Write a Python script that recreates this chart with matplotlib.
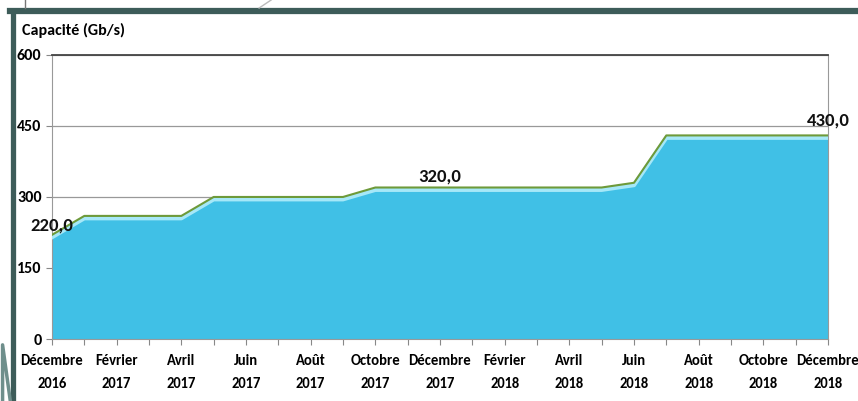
import matplotlib.pyplot as plt
from matplotlib.lines import Line2D

# données mensuelles déc. 2016 -> déc. 2018
mois = ['Décembre', 'Janvier', 'Février', 'Mars', 'Avril', 'Mai', 'Juin', 'Juillet', 'Août',
        'Septembre', 'Octobre', 'Novembre', 'Décembre', 'Janvier', 'Février', 'Mars', 'Avril',
        'Mai', 'Juin', 'Juillet', 'Août', 'Septembre', 'Octobre', 'Novembre', 'Décembre']
annees = ['2016'] + ['2017'] * 12 + ['2018'] * 12
capacite = [220, 260, 260, 260, 260, 300, 300, 300, 300, 300, 320, 320, 320,
            320, 320, 320, 320, 320, 330, 430, 430, 430, 430, 430, 430]
etiquettes = {0: '220,0', 12: '320,0', 24: '430,0'}
y_ticks = [0, 150, 300, 450, 600]

plt.rcParams['font.family'] = ['Carlito', 'DejaVu Sans']

fig = plt.figure(figsize=(8.58, 4.01), dpi=100)
ax = fig.add_axes([0.0606, 0.1546, 0.9044, 0.7084])

x = list(range(len(capacite)))
ax.fill_between(x, 0, capacite, color='#40c0e6', zorder=2)
ax.plot(x, [v - 5 for v in capacite], color='#a6e8f8', lw=3, zorder=3)
ax.plot(x, capacite, color='#6e9a3a', lw=1.5, zorder=4)

for i, txt in etiquettes.items():
    dy = 1 if i == 0 else (2 if i == 12 else 5)
    ax.annotate(txt, (i, capacite[i]), xytext=(0, dy), textcoords='offset points',
                ha='center', va='bottom', fontsize=13.5, fontweight='bold', color='#111111', zorder=5,
                annotation_clip=False)

ax.set_xlim(0, len(capacite) - 1)
ax.set_ylim(0, 600)
ax.set_yticks(y_ticks)
ax.set_yticklabels([str(v) for v in y_ticks], fontsize=11.5, fontweight='bold')
ax.set_xticks(x)
ax.set_xticklabels([f'{m}\n{a}' if i % 2 == 0 else '' for i, (m, a) in enumerate(zip(mois, annees))],
                   fontsize=10.5, fontweight='bold', linespacing=1.75)
ax.tick_params(axis='x', length=4, color='#888888', pad=7)
ax.tick_params(axis='y', length=4, color='#888888', pad=3.5)
ax.grid(axis='y', color='#999999', lw=0.9, zorder=1)
for s in ['left', 'bottom', 'right']:
    ax.spines[s].set_color('#999999')
ax.spines['top'].set_color('#444444')
ax.spines['top'].set_linewidth(1.3)

fig.text(0.026, 0.905, 'Capacité (Gb/s)', fontsize=11.5, fontweight='bold', ha='left', va='bottom')

# cadre décoratif
bord = '#3d5c59'
fig.add_artist(Line2D([0.012, 1.0], [0.972, 0.972], color=bord, lw=4.5, transform=fig.transFigure))
fig.add_artist(Line2D([0.0146, 0.0146], [0.972, 0.0], color=bord, lw=3.8, transform=fig.transFigure))
fig.add_artist(Line2D([0.003, 0.003, 0.012], [0.0, 0.14, 0.0], color='#6f8f8c', lw=2.5,
                      transform=fig.transFigure))
fig.add_artist(Line2D([0.029, 0.029], [1.0, 0.98], color='#777777', lw=1, transform=fig.transFigure))
fig.add_artist(Line2D([0.302, 0.316], [0.98, 1.0], color='#bbbbbb', lw=1, transform=fig.transFigure))

fig.savefig('out.png', dpi=100)
